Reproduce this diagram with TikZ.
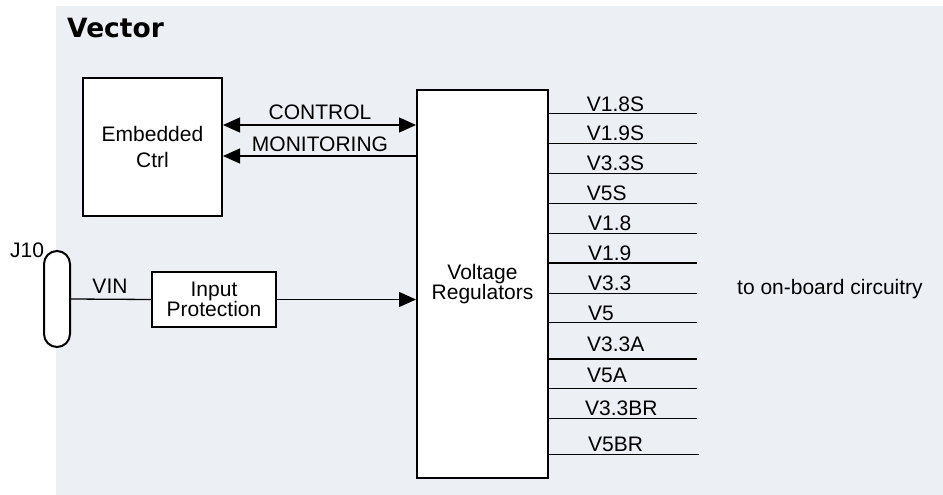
\documentclass[tikz,border=0pt]{standalone}
\usepackage{fontspec}
\setmainfont{Liberation Sans}
\newfontfamily\titlefont{DejaVu Sans}
\usetikzlibrary{arrows.meta}
\definecolor{bgc}{RGB}{236,239,244}
\newcommand\mytightskip{\lineskiplimit=-100pt\relax}
\begin{document}
\begin{tikzpicture}[x=1pt,y=-1pt,
  txt/.style={font={\fontsize{21}{25}\selectfont}, inner sep=0pt},
  blk/.style={draw, line width=2pt, fill=white, inner sep=0pt, align=center,
    font={\fontsize{21}{19.5}\selectfont\mytightskip}},
  conn/.style={line width=1.3pt},
  arr/.style={-{Triangle[length=17pt,width=15pt]}},
  darr/.style={{Triangle[length=17pt,width=15pt]}-{Triangle[length=17pt,width=15pt]}},
  outl/.style={line width=1.4pt}
]
\useasboundingbox (0,0) rectangle (943,495);
\fill[bgc] (56,6) rectangle (943,495);

\node[anchor=base west, inner sep=0pt, font={\titlefont\bfseries\fontsize{26.5}{30}\selectfont}] (title) at (67,38) {Vector};

% blocks
\node[blk, minimum width=139pt, minimum height=138pt, font={\fontsize{21}{26}\selectfont}] (ec) at (152.5,147) {Embedded\\Ctrl};
\node[blk, minimum width=131pt, minimum height=388pt] (vr) at (482.5,284) {Voltage\\Regulators};
\node[blk, minimum width=124pt, minimum height=55pt] (ip) at (214,299.5) {Input\\Protection};
\node[draw, line width=2pt, fill=white, rounded corners=13pt, minimum width=26pt, minimum height=96pt, inner sep=0pt] (j10) at (57,299) {};

% labels
\node[txt, anchor=base west] (j10l) at (10,257) {J10};
\node[txt, anchor=base] (vinl) at (110,293) {VIN};
\node[txt, anchor=base] (ctll) at (320,120) {CONTROL};
\node[txt, anchor=base] (monl) at (320,151) {MONITORING};
\node[txt, anchor=base west] (tobc) at (737,294.3) {to on-board circuitry};

% connectors
\coordinate (c1) at ([yshift=22pt]ec.east);
\coordinate (c2) at ([yshift=-9pt]ec.east);
\draw[conn, darr] (c1) -- (c1 -| vr.west);
\draw[conn, arr] (c2 -| vr.west) -- (c2);
\draw[conn] (j10.east) -- (ip.west);
\draw[conn, arr] (ip.east) -- (ip.east -| vr.west);

% outputs
\foreach \i/\ly/\by/\bx/\ex/\t in {
  1/113.7/111/586.7/697/V1.8S,
  2/143.3/140.7/586.7/697/V1.9S,
  3/173.7/170/586.7/697/V3.3S,
  4/203.3/200/586.7/697/V5S,
  5/233.3/230/588/697/V1.8,
  6/263/260.7/588/697/V1.9,
  7/293.3/290.7/588/697/V3.3,
  8/322.7/320.7/588/697/V5,
  9/359/351/587/697/V3.3A,
  10/388.7/382.7/587/697/V5A,
  11/418.7/415.7/585/697/V3.3BR,
  12/454.3/451.7/588/699/V5BR}{
  \coordinate (e\i) at (\ex,\ly);
  \draw[outl] (vr.east |- e\i) -- (e\i);
  \node[txt, anchor=base west] (t\i) at (\bx,\by) {\t};
}
\end{tikzpicture}
\end{document}
